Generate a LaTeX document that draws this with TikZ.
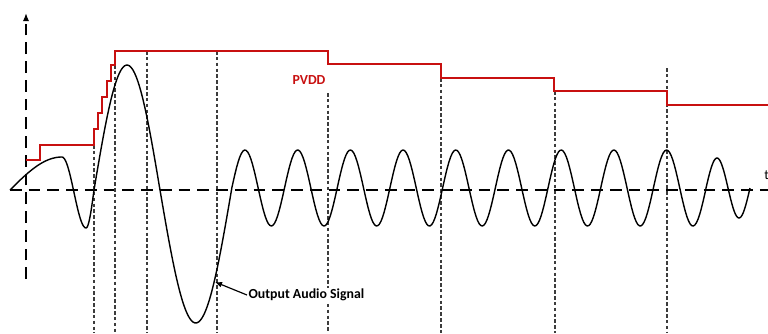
\documentclass[tikz,border=0pt]{standalone}
\usepackage{fontspec}
\setmainfont{Carlito}
\usepackage{xcolor}
\usepackage{tikz}
\usetikzlibrary{arrows,arrows.meta}
\definecolor{pvddred}{RGB}{200,16,16}
\definecolor{guidegray}{RGB}{60,60,60}

\begin{document}
\begin{tikzpicture}[x=0.03cm, y=-0.03cm, thick,
  axis/.style={line width=1.6pt, dash pattern=on 10pt off 6pt},
  guide/.style={color=guidegray, line width=0.9pt, dash pattern=on 3pt off 2pt},
  pvdd/.style={color=pvddred, line width=1.2pt},
  wave/.style={line width=1.2pt, line join=round},
  lbl/.style={font=\fontsize{11.8}{14}\selectfont\bfseries, inner sep=1pt}]
\useasboundingbox (0,0) rectangle (768,333);
%%%%% Axis %%%%%
\draw[axis, -{Latex[length=7pt, width=5.5pt]}] (26,279)--(26,13);
\draw[axis] (10,190)--(768,190);
\node[anchor=west, font=\fontsize{11.8}{14}\selectfont, inner sep=0pt] (tlbl) at (764,175) {t};
%%%%% Guides %%%%%
\foreach \x/\ytop in {94/145, 115/65, 147/51, 217/51, 328/93, 441/78, 555/91, 667/68}{
\draw[guide] (\x,\ytop)--(\x,333);
}
%%%%% PVDD %%%%%
\draw[pvdd] (26,160) -| (40,145) -| (94,129) -| (98,113) -| (102,97) -| (107,81)
  -| (111,65) -| (115,51) -| (328,64) -| (441,78) -| (554,91) -| (667,105) -- (768,105);
\node[lbl, text=pvddred] (pvddlbl) at (309,80) {PVDD};
%%%%% Signal %%%%%
\draw[wave] plot[domain=10:62, samples=30] (\x, {190-33*sin(1.7308*(\x-10))})
  -- plot[domain=62:86, samples=20] (\x, {192.5-35.5*cos(7.5*(\x-62))})
  -- plot[domain=86:94, samples=10] (\x, {190+38*cos(11.25*(\x-86))})
  -- plot[domain=94:160, samples=40] (\x, {190-125*sin(2.7273*(\x-94))})
  -- plot[domain=160:231.5, samples=40] (\x, {190+133*sin(2.5175*(\x-160))})
  -- plot[domain=231.8:706, samples=300] (\x, {188-38*sin(6.8311*(\x-231.8))})
  -- plot[domain=706:750, samples=40] (\x, {188-30*sin(8.1818*(\x-706))});
\coordinate (sigtip) at (215,282);
\node[lbl, fill=white, anchor=west] (siglbl) at (247,295) {Output Audio Signal};
\draw[line width=1pt, -{Latex[length=6pt, width=5pt]}] (siglbl.west) -- (sigtip);
\end{tikzpicture}
\end{document}
